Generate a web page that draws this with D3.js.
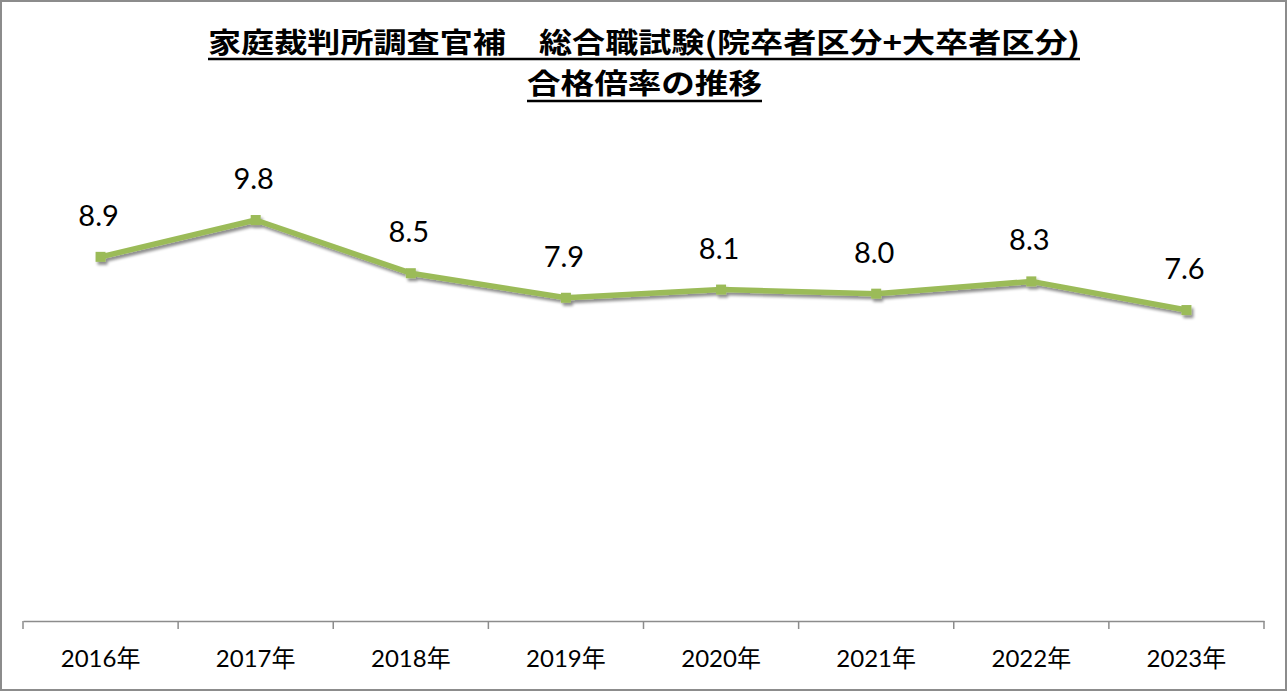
<!DOCTYPE html>
<html><head><meta charset="utf-8">
<script src="https://cdn.jsdelivr.net/npm/d3@7"></script>
<style>
html,body{margin:0;padding:0;background:#fff;}
svg{display:block;}
</style>
</head><body>
<svg id="chart" width="1287" height="691"></svg>
<script>
const categories = ["2016年","2017年","2018年","2019年","2020年","2021年","2022年","2023年"];
const values = [8.9, 9.8, 8.5, 7.9, 8.1, 8.0, 8.3, 7.6];
const valueLabels = ["8.9","9.8","8.5","7.9","8.1","8.0","8.3","7.6"];
const titleLines = ["家庭裁判所調査官補\u3000総合職試験(院卒者区分+大卒者区分)", "合格倍率の推移"];

const svg = d3.select("#chart");
const W = 1287, H = 691;
svg.append("rect").attr("x",1).attr("y",1).attr("width",W-2).attr("height",H-2)
  .attr("fill","#fff").attr("stroke","#8c8c8c").attr("stroke-width",2);

const defs = svg.append("defs");
const f = defs.append("filter").attr("id","sh").attr("x","-50%").attr("y","-50%").attr("width","200%").attr("height","200%");
f.append("feGaussianBlur").attr("in","SourceAlpha").attr("stdDeviation",1.6).attr("result","b");
f.append("feOffset").attr("in","b").attr("dx",1.5).attr("dy",2.5).attr("result","o");
f.append("feComponentTransfer").attr("in","o").attr("result","o2").append("feFuncA").attr("type","linear").attr("slope",0.45);
const fm = f.append("feMerge");
fm.append("feMergeNode").attr("in","o2");
fm.append("feMergeNode").attr("in","SourceGraphic");

const x = d3.scaleBand().domain(categories).range([23, 1264]).padding(0);
const y = d3.scaleLinear().domain([0, 12]).range([621, 130]);

// Title
const titleSpecs = [{y:53, x0:208, x1:1080, ul:59}, {y:94, x0:527, x1:762, ul:101}];
titleLines.forEach((t,i)=>{
  const s = titleSpecs[i];
  svg.append("text").attr("x",s.x0).attr("y",s.y)
    .attr("font-family","'Noto Sans CJK JP'").attr("font-weight",700).attr("font-size",28)
    .attr("textLength", s.x1-s.x0).attr("lengthAdjust","spacingAndGlyphs")
    .attr("fill","#000").text(t);
  svg.append("line").attr("x1",s.x0).attr("x2",s.x1).attr("y1",s.ul).attr("y2",s.ul)
    .attr("stroke","#000").attr("stroke-width",2.5);
});

// Axis
const axis = d3.axisBottom(x).tickSize(0).tickPadding(29);
const gA = svg.append("g").attr("transform","translate(0,621)").call(axis);
gA.select(".domain").attr("stroke","#8c8c8c").attr("stroke-width",1.5);
gA.selectAll("text").attr("font-family","Lato, 'Noto Sans CJK JP'").attr("font-size",24).attr("fill","#000");
const bounds = categories.map(c=>x(c)).concat([x.range()[1]]);
svg.append("g").selectAll("line").data(bounds).join("line")
  .attr("x1",d=>d).attr("x2",d=>d).attr("y1",621).attr("y2",629)
  .attr("stroke","#8c8c8c").attr("stroke-width",1.5);

const cx = c => x(c) + x.bandwidth()/2;
const line = d3.line().x((d,i)=>cx(categories[i])).y(d=>y(d));
const gL = svg.append("g").attr("filter","url(#sh)");
gL.append("path").datum(values).attr("d",line).attr("fill","none")
  .attr("stroke","#9bbb59").attr("stroke-width",5.5).attr("stroke-linejoin","round");
gL.selectAll("rect").data(values).join("rect")
  .attr("x",(d,i)=>cx(categories[i])-5).attr("y",d=>y(d)-5)
  .attr("width",10).attr("height",10).attr("fill","#9bbb59");

svg.append("g").selectAll("text").data(values).join("text")
  .attr("x",(d,i)=>cx(categories[i])-2).attr("y",d=>y(d)-31)
  .attr("text-anchor","middle").attr("font-family","Lato, 'Noto Sans CJK JP'")
  .attr("font-size",29).attr("fill","#000").text((d,i)=>valueLabels[i]);
</script>
</body></html>
